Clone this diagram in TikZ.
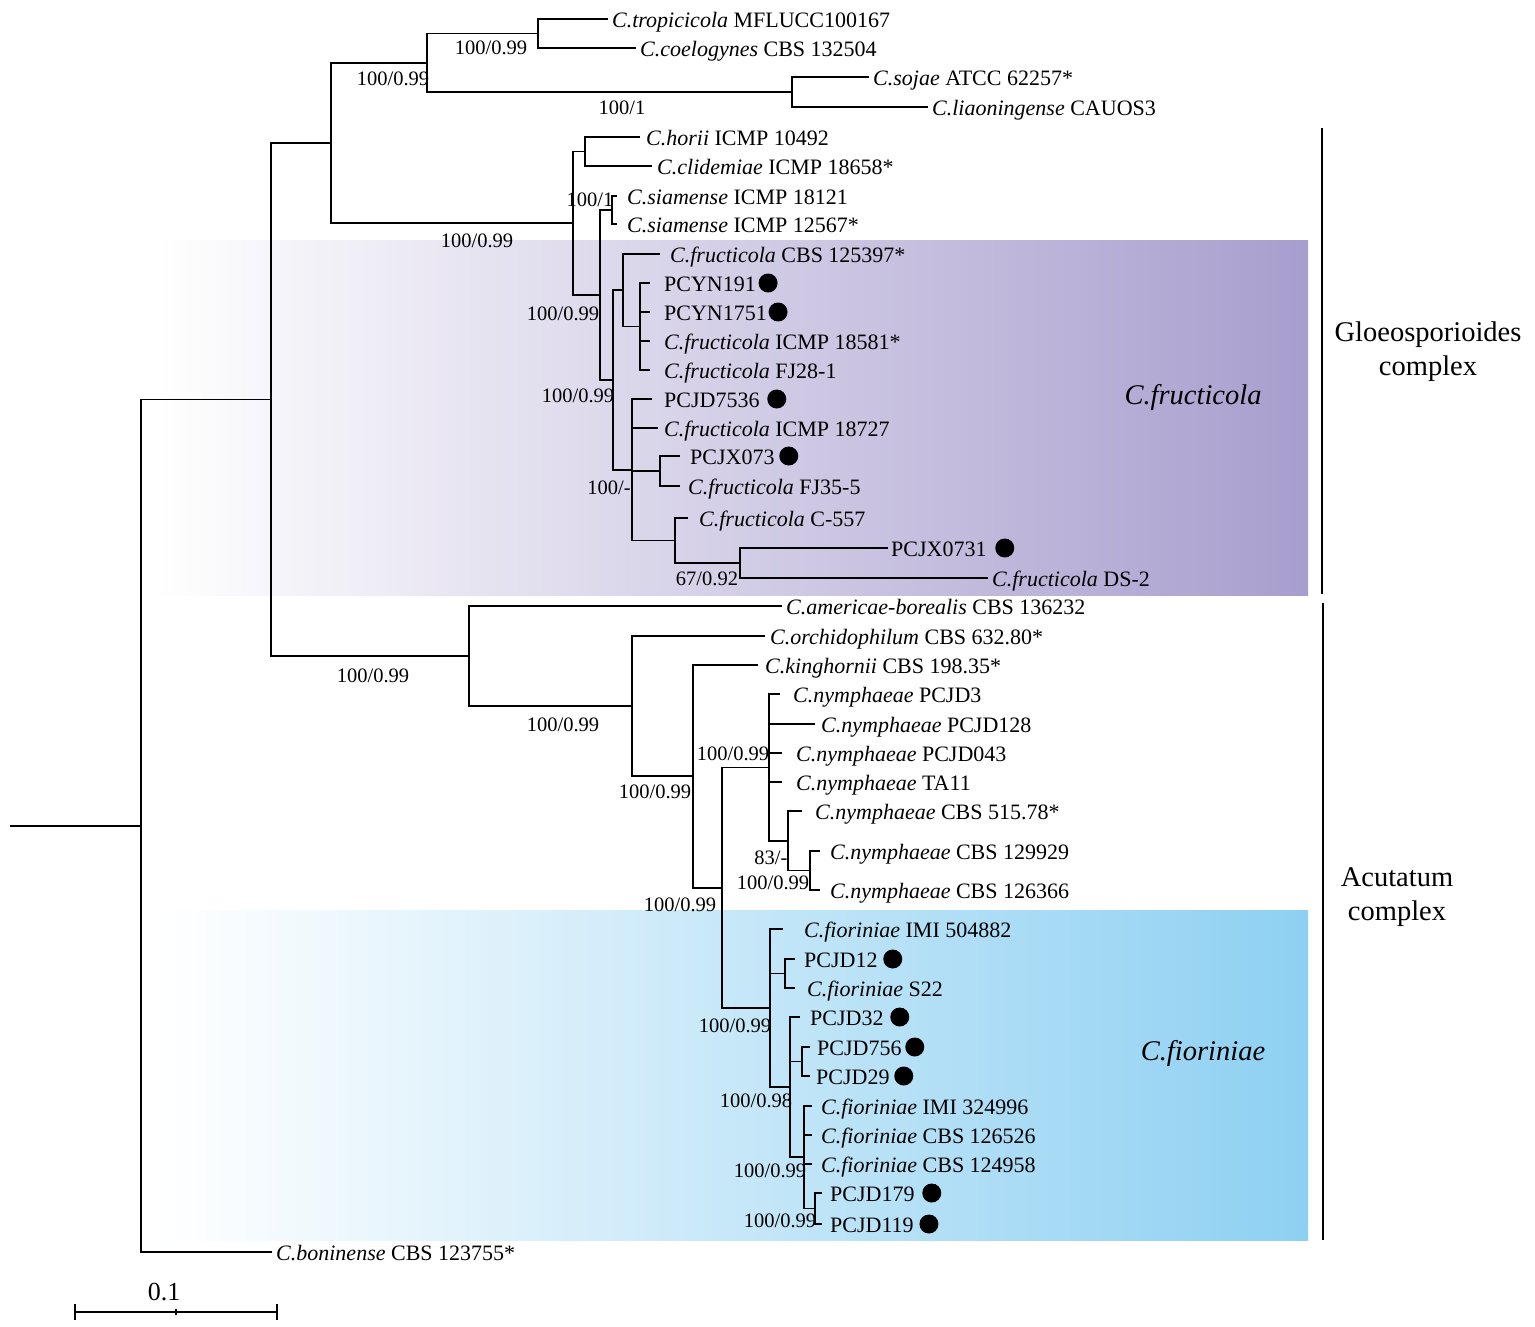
\documentclass[tikz,border=0pt]{standalone}
\usepackage{fontspec}
\setmainfont{Liberation Serif}
\usetikzlibrary{calc}
\definecolor{purpR}{RGB}{168,158,206}
\definecolor{blueR}{RGB}{142,208,242}
\begin{document}
\begin{tikzpicture}[x=1pt,y=-1pt,
  br/.style={line width=1.8pt, black},
  bar/.style={line width=2pt, black},
  leaf/.style={anchor=west, inner sep=0pt, text height=17pt, text depth=0pt, font=\fontsize{22}{26}\selectfont},
  suplab/.style={inner sep=0pt, text height=14pt, text depth=0pt, font=\fontsize{20.5}{24}\selectfont},
  dotm/.style={circle, fill=black, inner sep=0pt, minimum size=19pt},
  cplx/.style={align=center, font=\fontsize{28.5}{34}\selectfont},
  clade/.style={font=\fontsize{28.5}{34}\selectfont\itshape}]
\useasboundingbox (0,0) rectangle (1535,1327);
% clade shadings
\shade[left color=white, right color=purpR] (155,240) rectangle (1308,595);
\shade[left color=white, right color=blueR] (160,910) rectangle (1308,1240);
% internal nodes
\coordinate (root) at (10,825.8);
\coordinate (nR) at (141,825.8);
\coordinate (nA) at (271,399.55);
\coordinate (nB) at (331,143);
\coordinate (nC) at (427,62.75);
\coordinate (ntrop) at (538,33.5);
\coordinate (nsoj) at (792,92);
\coordinate (nD) at (573,223.25);
\coordinate (nhor) at (585,151.5);
\coordinate (nS) at (600,295);
\coordinate (nsiam) at (612,210);
\coordinate (nfrD) at (613,380);
\coordinate (nfrB) at (623,290.25);
\coordinate (nfrA) at (640,326.5);
\coordinate (nfrC) at (632,469.75);
\coordinate (npair) at (660,471);
\coordinate (nc557) at (675,540.5);
\coordinate (nds) at (740,563);
\coordinate (nAc) at (469,656.1);
\coordinate (nG) at (632,706.2);
\coordinate (nF) at (693,776.35);
\coordinate (nE) at (722,887.7);
\coordinate (nnym) at (769,767.4);
\coordinate (nn2) at (788,840.75);
\coordinate (nn3) at (810,870.5);
\coordinate (nfio) at (770,1008);
\coordinate (nf1) at (785,973.5);
\coordinate (nf2) at (790,1087.1);
\coordinate (nf3) at (802,1061.5);
\coordinate (nf4) at (804,1157.25);
\coordinate (np2) at (815,1208.5);
% leaves
\node[leaf] (l1) at (612,19) {\textit{C.tropicicola} MFLUCC100167};
\node[leaf] (l2) at (640,48) {\textit{C.coelogynes} CBS 132504};
\node[leaf] (l3) at (873,77) {\textit{C.sojae} ATCC 62257*};
\node[leaf] (l4) at (932,107) {\textit{C.liaoningense} CAUOS3};
\node[leaf] (l5) at (646,137) {\textit{C.horii} ICMP 10492};
\node[leaf] (l6) at (657,166) {\textit{C.clidemiae} ICMP 18658*};
\node[leaf] (l7) at (627,196) {\textit{C.siamense} ICMP 18121};
\node[leaf] (l8) at (627,224) {\textit{C.siamense} ICMP 12567*};
\node[leaf] (l9) at (670,254) {\textit{C.fructicola} CBS 125397*};
\node[leaf] (l10) at (664,283) {PCYN191};
\node[leaf] (l11) at (664,312) {PCYN1751};
\node[leaf] (l12) at (664,341) {\textit{C.fructicola} ICMP 18581*};
\node[leaf] (l13) at (664,370) {\textit{C.fructicola} FJ28-1};
\node[leaf] (l14) at (664,399) {PCJD7536};
\node[leaf] (l15) at (664,428) {\textit{C.fructicola} ICMP 18727};
\node[leaf] (l16) at (690,456) {PCJX073};
\node[leaf] (l17) at (688,486) {\textit{C.fructicola} FJ35-5};
\node[leaf] (l18) at (699,518) {\textit{C.fructicola} C-557};
\node[leaf] (l19) at (891,548) {PCJX0731};
\node[leaf] (l20) at (992,578) {\textit{C.fructicola} DS-2};
\node[leaf] (l21) at (786,606) {\textit{C.americae-borealis} CBS 136232};
\node[leaf] (l22) at (770,636) {\textit{C.orchidophilum} CBS 632.80*};
\node[leaf] (l23) at (765,665) {\textit{C.kinghornii} CBS 198.35*};
\node[leaf] (l24) at (793,694) {\textit{C.nymphaeae} PCJD3};
\node[leaf] (l25) at (821,724) {\textit{C.nymphaeae} PCJD128};
\node[leaf] (l26) at (796,753) {\textit{C.nymphaeae} PCJD043};
\node[leaf] (l27) at (796,782) {\textit{C.nymphaeae} TA11};
\node[leaf] (l28) at (815,811) {\textit{C.nymphaeae} CBS 515.78*};
\node[leaf] (l29) at (830,851) {\textit{C.nymphaeae} CBS 129929};
\node[leaf] (l30) at (830,890) {\textit{C.nymphaeae} CBS 126366};
\node[leaf] (l31) at (804,929) {\textit{C.fioriniae} IMI 504882};
\node[leaf] (l32) at (804,959) {PCJD12};
\node[leaf] (l33) at (807,988) {\textit{C.fioriniae} S22};
\node[leaf] (l34) at (810,1017) {PCJD32};
\node[leaf] (l35) at (817,1047) {PCJD756};
\node[leaf] (l36) at (816,1076) {PCJD29};
\node[leaf] (l37) at (821,1106) {\textit{C.fioriniae} IMI 324996};
\node[leaf] (l38) at (821,1135) {\textit{C.fioriniae} CBS 126526};
\node[leaf] (l39) at (821,1164) {\textit{C.fioriniae} CBS 124958};
\node[leaf] (l40) at (830,1193) {PCJD179};
\node[leaf] (l41) at (830,1224) {PCJD119};
\node[leaf] (l42) at (276,1252) {\textit{C.boninense} CBS 123755*};
% dots
\node[dotm] (d10) at ([xshift=12pt]l10.east) {};
\node[dotm] (d11) at ([xshift=11pt]l11.east) {};
\node[dotm] (d14) at ([xshift=17pt]l14.east) {};
\node[dotm] (d16) at ([xshift=14pt]l16.east) {};
\node[dotm] (d19) at ([xshift=18pt]l19.east) {};
\node[dotm] (d32) at ([xshift=15pt]l32.east) {};
\node[dotm] (d34) at ([xshift=16pt]l34.east) {};
\node[dotm] (d35) at ([xshift=13pt]l35.east) {};
\node[dotm] (d36) at ([xshift=14pt]l36.east) {};
\node[dotm] (d40) at ([xshift=17pt]l40.east) {};
\node[dotm] (d41) at ([xshift=15pt]l41.east) {};
% branches: Gloeosporioides side
\draw[br] (root) -- (nR);
\draw[br] (nR) |- (nA);
\draw[br,shorten >=4pt] (nR) |- (l42.west);
\draw[br] (nA) |- (nB);
\draw[br] (nA) |- (nAc);
\draw[br] (nB) |- (nC);
\draw[br] (nB) |- (nD);
\draw[br] (nC) |- (ntrop);
\draw[br] (nC) |- (nsoj);
\draw[br,shorten >=4pt] (ntrop) |- (l1.west);
\draw[br,shorten >=4pt] (ntrop) |- (l2.west);
\draw[br,shorten >=4pt] (nsoj) |- (l3.west);
\draw[br,shorten >=4pt] (nsoj) |- (l4.west);
\draw[br] (nD) |- (nhor);
\draw[br] (nD) |- (nS);
\draw[br,shorten >=6pt] (nhor) |- (l5.west);
\draw[br,shorten >=5pt] (nhor) |- (l6.west);
\draw[br] (nS) |- (nsiam);
\draw[br] (nS) |- (nfrD);
\draw[br,shorten >=10pt] (nsiam) |- (l7.west);
\draw[br,shorten >=10pt] (nsiam) |- (l8.west);
\draw[br] (nfrD) |- (nfrB);
\draw[br] (nfrD) |- (nfrC);
\draw[br,shorten >=10pt] (nfrB) |- (l9.west);
\draw[br] (nfrB) |- (nfrA);
\draw[br,shorten >=14pt] (nfrA) |- (l10.west);
\draw[br,shorten >=14pt] (nfrA) |- (l11.west);
\draw[br,shorten >=14pt] (nfrA) |- (l12.west);
\draw[br,shorten >=14pt] (nfrA) |- (l13.west);
\draw[br,shorten >=12pt] (nfrC) |- (l14.west);
\draw[br,shorten >=6pt] (nfrC) |- (l15.west);
\draw[br] (nfrC) |- (npair);
\draw[br] (nfrC) |- (nc557);
\draw[br,shorten >=10pt] (npair) |- (l16.west);
\draw[br,shorten >=8pt] (npair) |- (l17.west);
\draw[br,shorten >=11pt] (nc557) |- (l18.west);
\draw[br] (nc557) |- (nds);
\draw[br,shorten >=3pt] (nds) |- (l19.west);
\draw[br,shorten >=4pt] (nds) |- (l20.west);
% branches: Acutatum side
\draw[br,shorten >=4pt] (nAc) |- (l21.west);
\draw[br] (nAc) |- (nG);
\draw[br,shorten >=5pt] (nG) |- (l22.west);
\draw[br] (nG) |- (nF);
\draw[br,shorten >=7pt] (nF) |- (l23.west);
\draw[br] (nF) |- (nE);
\draw[br] (nE) |- (nnym);
\draw[br] (nE) |- (nfio);
\draw[br,shorten >=13pt] (nnym) |- (l24.west);
\draw[br,shorten >=6pt] (nnym) |- (l25.west);
\draw[br,shorten >=14pt] (nnym) |- (l26.west);
\draw[br,shorten >=14pt] (nnym) |- (l27.west);
\draw[br] (nnym) |- (nn2);
\draw[br,shorten >=13pt] (nn2) |- (l28.west);
\draw[br] (nn2) |- (nn3);
\draw[br,shorten >=10pt] (nn3) |- (l29.west);
\draw[br,shorten >=10pt] (nn3) |- (l30.west);
\draw[br,shorten >=21pt] (nfio) |- (l31.west);
\draw[br] (nfio) |- (nf1);
\draw[br] (nfio) |- (nf2);
\draw[br,shorten >=9pt] (nf1) |- (l32.west);
\draw[br,shorten >=12pt] (nf1) |- (l33.west);
\draw[br,shorten >=10pt] (nf2) |- (l34.west);
\draw[br] (nf2) |- (nf3);
\draw[br] (nf2) |- (nf4);
\draw[br,shorten >=7pt] (nf3) |- (l35.west);
\draw[br,shorten >=6pt] (nf3) |- (l36.west);
\draw[br,shorten >=9pt] (nf4) |- (l37.west);
\draw[br,shorten >=9pt] (nf4) |- (l38.west);
\draw[br,shorten >=9pt] (nf4) |- (l39.west);
\draw[br] (nf4) |- (np2);
\draw[br,shorten >=8pt] (np2) |- (l40.west);
\draw[br,shorten >=8pt] (np2) |- (l41.west);
% support values
\node[suplab] (s1) at (491,48) {100/0.99};
\node[suplab] (s2) at (393,79) {100/0.99};
\node[suplab] (s3) at (622,108) {100/1};
\node[suplab] (s4) at (477,240) {100/0.99};
\node[suplab] (s5) at (590,200) {100/1};
\node[suplab] (s6) at (563,313) {100/0.99};
\node[suplab] (s7) at (578,395) {100/0.99};
\node[suplab] (s8) at (609,487) {100/-};
\node[suplab] (s9) at (707,578) {67/0.92};
\node[suplab] (s10) at (373,675) {100/0.99};
\node[suplab] (s11) at (563,724) {100/0.99};
\node[suplab] (s12) at (655,791) {100/0.99};
\node[suplab] (s13) at (680,904) {100/0.99};
\node[suplab] (s14) at (733,753) {100/0.99};
\node[suplab] (s15) at (771,857) {83/-};
\node[suplab] (s16) at (773,882) {100/0.99};
\node[suplab] (s17) at (735,1025) {100/0.99};
\node[suplab] (s18) at (756,1100) {100/0.98};
\node[suplab] (s19) at (770,1170) {100/0.99};
\node[suplab] (s20) at (780,1220) {100/0.99};
% clade labels
\node[clade] (cf) at (1193,397) {C.fructicola};
\node[clade] (cfi) at (1203,1053) {C.fioriniae};
% complex bars
\coordinate (g1) at (1322,128);
\coordinate (g2) at (1322,594);
\coordinate (a1) at (1323,603);
\coordinate (a2) at (1323,1240);
\draw[bar] (g1) -- (g2);
\draw[bar] (a1) -- (a2);
\node[cplx] (gc) at (1428,352) {Gloeosporioides\\complex};
\node[cplx] (ac) at (1397,897) {Acutatum\\complex};
% scale bar
\coordinate (sb1) at (75,1312);
\coordinate (sb2) at (277,1312);
\coordinate (sbm) at (176,1312);
\draw[br] (sb1) -- (sb2);
\draw[br] ([yshift=-8pt]sb1) -- ([yshift=8pt]sb1);
\draw[br] ([yshift=-8pt]sb2) -- ([yshift=8pt]sb2);
\draw[br] ([yshift=-3pt]sbm) -- ([yshift=3pt]sbm);
\node[font=\fontsize{26}{30}\selectfont, inner sep=0pt] (sc) at (164,1292) {0.1};
\end{tikzpicture}
\end{document}
